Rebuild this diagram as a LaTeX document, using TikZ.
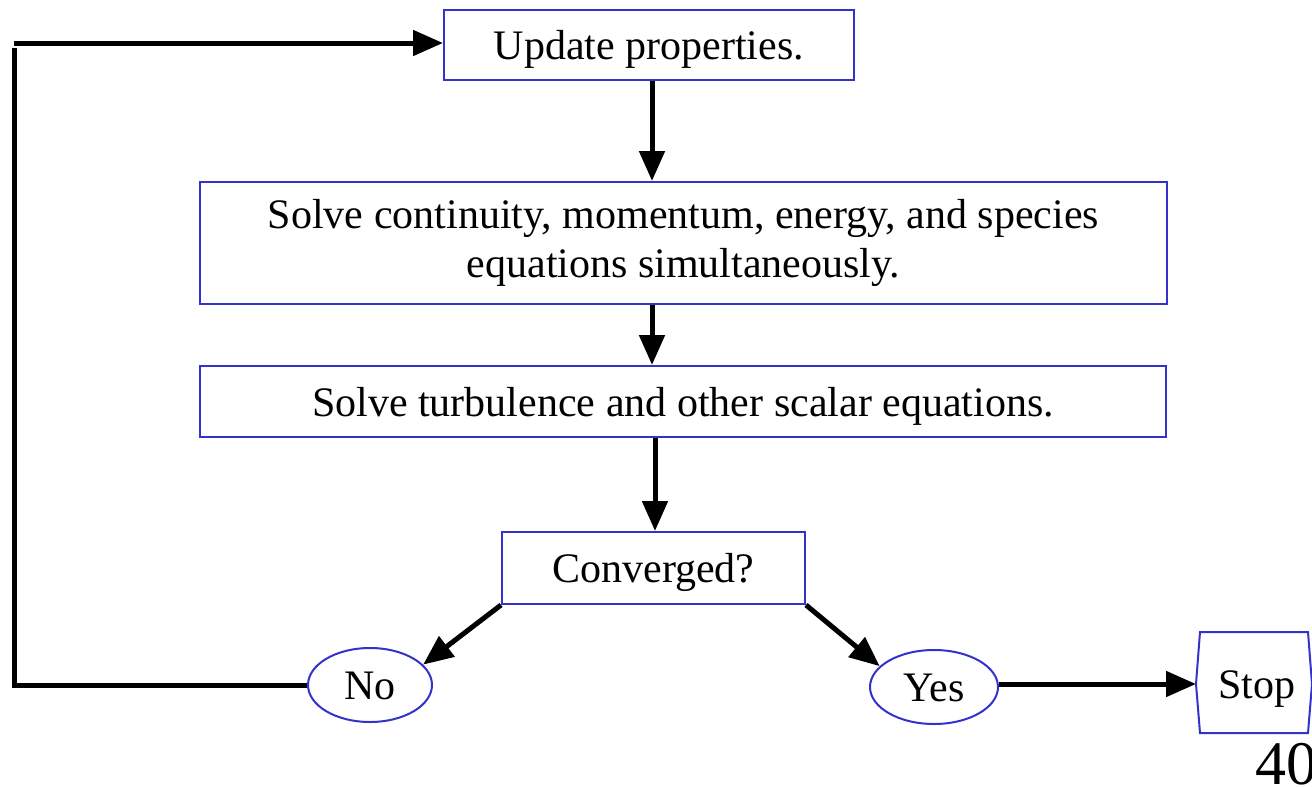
\documentclass[tikz,border=0pt]{standalone}
\usepackage{fontspec}
\setmainfont{Liberation Serif}
\usetikzlibrary{arrows.meta,shapes.geometric}
\definecolor{boxblue}{RGB}{51,51,204}
\begin{document}
\begin{tikzpicture}[x=1pt,y=-1pt,
  every node/.style={font=\fontsize{42}{50}\selectfont, inner sep=0pt},
  oneline/.style={text height=29pt, text depth=0pt},
  stepbox/.style={draw=boxblue, line width=2pt, rectangle},
  answer/.style={draw=boxblue, line width=2pt, ellipse, oneline},
  flow/.style={line width=5pt, -{Triangle[length=30pt,width=25pt]}},
  plain/.style={line width=5pt}]
\useasboundingbox (0,0) rectangle (1312,787);

% process boxes
\node[stepbox, oneline, minimum width=410pt, minimum height=70pt] (update) at (649,45) {Update properties.};
\node[stepbox, minimum width=967pt, minimum height=122pt, align=center] (solve) at (683.5,243)
  {\raisebox{-3pt}{Solve continuity, momentum, energy, and species}\\[-1pt]\raisebox{-3pt}{equations simultaneously.}};
\node[stepbox, oneline, minimum width=966pt, minimum height=71pt] (turb) at (683,401.5) {Solve turbulence and other scalar equations.};
\node[stepbox, oneline, minimum width=303pt, minimum height=72pt] (conv) at (653.5,568) {Converged?};

% answers
\node[answer, minimum width=124pt, minimum height=74pt] (no) at (370,685) {No};
\node[answer, minimum width=128pt, minimum height=74pt] (yes) at (934,687) {Yes};

% terminal
\draw[draw=boxblue, line width=2pt] (1200,632) -- (1308,632) -- (1312,684) -- (1308,733)
  -- (1200,733) -- (1196,684) -- cycle;
\node[oneline] (stop) at (1257,684) {Stop};
\coordinate (stopin) at (1196,684);

% page number
\node[anchor=base west, font=\fontsize{62}{64}\selectfont] (pagenum) at (1255,784) {40};

% connectors
\draw[flow] (update.south -| 652,0) -- (solve.north -| 652,0);
\draw[flow] (solve.south -| 652,0) -- (turb.north -| 652,0);
\draw[flow] (turb.south -| 655,0) -- (conv.north -| 655,0);
\draw[flow] (conv.south west) -- (no.21);
\draw[flow] (conv.south east) -- (yes.159);
\draw[flow] (yes.east |- stopin) -- (stopin);

% loop back to the top
\coordinate (loopbot) at (14,685);
\coordinate (looptop) at (14,43);
\draw[plain] (no.west) -- (loopbot) -- (14,48);
\draw[flow] (looptop) -- (update.west |- looptop);
\end{tikzpicture}
\end{document}
